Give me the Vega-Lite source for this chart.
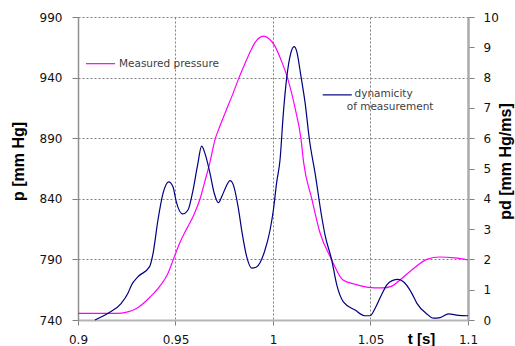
{
  "$schema": "https://vega.github.io/schema/vega-lite/v6.json",
  "width": 390,
  "height": 303,
  "autosize": "none",
  "padding": {"left": 78, "top": 17, "right": 47, "bottom": 26},
  "background": "white",
  "config": {
    "view": {"stroke": null},
    "axis": {
      "labelFont": "DejaVu Sans",
      "labelFontSize": 12,
      "labelColor": "#111111",
      "titleFont": "Liberation Sans",
      "titleFontSize": 16,
      "titleFontWeight": "bold",
      "titleColor": "#000000",
      "tickColor": "#808080",
      "gridColor": "#808080",
      "gridDash": [2, 2],
      "gridOpacity": 1,
      "gridWidth": 1,
      "labelFlush": false,
      "labelOverlap": false,
      "labelBound": false
    }
  },
  "datasets": {
    "pressure": [
      {"t": 0.9, "p": 745.5}, {"t": 0.91, "p": 745.5}, {"t": 0.92, "p": 745.5},
      {"t": 0.925, "p": 746.5}, {"t": 0.93, "p": 749.5}, {"t": 0.933, "p": 753},
      {"t": 0.937, "p": 759}, {"t": 0.942, "p": 768}, {"t": 0.946, "p": 778},
      {"t": 0.9489, "p": 790}, {"t": 0.952, "p": 803}, {"t": 0.956, "p": 816},
      {"t": 0.9595, "p": 827}, {"t": 0.9626, "p": 840}, {"t": 0.965, "p": 854},
      {"t": 0.9675, "p": 869}, {"t": 0.9703, "p": 889}, {"t": 0.9728, "p": 900},
      {"t": 0.976, "p": 913}, {"t": 0.9795, "p": 927}, {"t": 0.9826, "p": 940},
      {"t": 0.9857, "p": 951.8}, {"t": 0.9885, "p": 962}, {"t": 0.9917, "p": 971},
      {"t": 0.9954, "p": 974.3}, {"t": 0.998, "p": 972}, {"t": 1.001, "p": 966},
      {"t": 1.004, "p": 955}, {"t": 1.0074, "p": 940}, {"t": 1.0113, "p": 915},
      {"t": 1.0143, "p": 890}, {"t": 1.0157, "p": 870}, {"t": 1.0199, "p": 840},
      {"t": 1.0241, "p": 812}, {"t": 1.03, "p": 790}, {"t": 1.0359, "p": 773},
      {"t": 1.042, "p": 769.5}, {"t": 1.048, "p": 767.2}, {"t": 1.056, "p": 766.5},
      {"t": 1.061, "p": 768}, {"t": 1.0651, "p": 773}, {"t": 1.0713, "p": 781.5},
      {"t": 1.0789, "p": 790}, {"t": 1.0856, "p": 792}, {"t": 1.0933, "p": 791.2},
      {"t": 1.1, "p": 789.5}
    ],
    "dyn": [
      {"t": 0.9087, "pd": 0.0}, {"t": 0.9154, "pd": 0.22}, {"t": 0.9222, "pd": 0.55},
      {"t": 0.9256, "pd": 0.88}, {"t": 0.9274, "pd": 1.15}, {"t": 0.9308, "pd": 1.43},
      {"t": 0.9367, "pd": 1.76}, {"t": 0.9385, "pd": 2.2}, {"t": 0.941, "pd": 3.3},
      {"t": 0.9436, "pd": 4.18}, {"t": 0.9465, "pd": 4.56}, {"t": 0.9487, "pd": 4.4},
      {"t": 0.9504, "pd": 3.9}, {"t": 0.9537, "pd": 3.5}, {"t": 0.9564, "pd": 3.63},
      {"t": 0.959, "pd": 4.29}, {"t": 0.9613, "pd": 5.1}, {"t": 0.9634, "pd": 5.74},
      {"t": 0.9651, "pd": 5.5}, {"t": 0.9677, "pd": 4.84}, {"t": 0.9698, "pd": 4.2},
      {"t": 0.972, "pd": 3.87}, {"t": 0.9739, "pd": 4.1}, {"t": 0.9759, "pd": 4.4},
      {"t": 0.978, "pd": 4.6}, {"t": 0.9797, "pd": 4.45}, {"t": 0.9822, "pd": 3.7},
      {"t": 0.9841, "pd": 2.9}, {"t": 0.9865, "pd": 2.09}, {"t": 0.9891, "pd": 1.71},
      {"t": 0.9917, "pd": 1.76}, {"t": 0.9934, "pd": 1.9}, {"t": 0.9959, "pd": 2.31},
      {"t": 0.9985, "pd": 2.97}, {"t": 1.0002, "pd": 3.63}, {"t": 1.0019, "pd": 4.55},
      {"t": 1.0036, "pd": 5.28}, {"t": 1.0053, "pd": 6.82}, {"t": 1.0071, "pd": 8.03},
      {"t": 1.0091, "pd": 8.8}, {"t": 1.0108, "pd": 9.02}, {"t": 1.0122, "pd": 8.86},
      {"t": 1.0142, "pd": 8.1}, {"t": 1.0165, "pd": 7.15}, {"t": 1.0187, "pd": 5.94},
      {"t": 1.0216, "pd": 4.84}, {"t": 1.025, "pd": 3.4}, {"t": 1.0267, "pd": 2.8},
      {"t": 1.0301, "pd": 1.98}, {"t": 1.0327, "pd": 1.16}, {"t": 1.0361, "pd": 0.6},
      {"t": 1.0421, "pd": 0.33}, {"t": 1.0472, "pd": 0.14}, {"t": 1.0498, "pd": 0.14},
      {"t": 1.0524, "pd": 0.39}, {"t": 1.0558, "pd": 0.85}, {"t": 1.0584, "pd": 1.16},
      {"t": 1.0611, "pd": 1.3}, {"t": 1.0643, "pd": 1.34}, {"t": 1.0669, "pd": 1.26},
      {"t": 1.0712, "pd": 0.88}, {"t": 1.0738, "pd": 0.55}, {"t": 1.0789, "pd": 0.2},
      {"t": 1.0823, "pd": 0.06}, {"t": 1.0857, "pd": 0.08}, {"t": 1.09, "pd": 0.2},
      {"t": 1.0951, "pd": 0.15}, {"t": 1.1, "pd": 0.14}
    ],
    "legP": [{"t": 0.9041, "t2": 0.919, "p": 951.5}],
    "legPText": [{"t": 0.921, "p": 951.5, "label": "Measured pressure"}],
    "legD": [{"t": 1.0255, "t2": 1.0404, "pd": 7.43}],
    "legDText": [
      {"t": 1.0418, "pd": 7.46, "label": "dynamicity"},
      {"t": 1.0378, "pd": 7.04, "label": "of measurement"}
    ]
  },
  "encoding": {
    "x": {
      "field": "t",
      "type": "quantitative",
      "scale": {"domain": [0.9, 1.1], "nice": false, "zero": false},
      "axis": {
        "values": [0.9, 0.95, 1, 1.05, 1.1],
        "format": "~g",
        "grid": true,
        "tickSize": 5,
        "labelPadding": 9,
        "title": "t [s]",
        "titleX": 343,
        "titleY": 18,
        "titleBaseline": "middle",
        "titleAlign": "center",
        "titleFontSize": 15,
        "domainColor": "#b5b5b5",
        "domainWidth": 2
      }
    }
  },
  "layer": [
    {
      "encoding": {
        "y": {
          "field": "p",
          "type": "quantitative",
          "scale": {"domain": [740, 990], "nice": false, "zero": false},
          "axis": {
            "orient": "left",
            "values": [740, 790, 840, 890, 940, 990],
            "grid": true,
            "tickSize": 6,
            "labelPadding": 10,
            "title": "p  [mm Hg]",
            "titleX": -60,
            "titleY": 144,
            "titleAngle": 270,
            "titleBaseline": "middle",
            "titleAlign": "center",
            "domainColor": "#909090",
            "domainWidth": 1.5
          }
        }
      },
      "layer": [
        {"data": {"name": "pressure"}, "mark": {"type": "line", "color": "#FF00FF", "strokeWidth": 1.2, "interpolate": "monotone"}},
        {"data": {"name": "legP"}, "mark": {"type": "rule", "color": "#FF00FF", "strokeWidth": 1.2}, "encoding": {"x2": {"field": "t2"}}},
        {"data": {"name": "legPText"}, "mark": {"type": "text", "align": "left", "baseline": "middle", "font": "DejaVu Sans", "fontSize": 10.5, "color": "#404040"}, "encoding": {"text": {"field": "label"}}}
      ]
    },
    {
      "encoding": {
        "y": {
          "field": "pd",
          "type": "quantitative",
          "scale": {"domain": [0, 10], "nice": false, "zero": false},
          "axis": {
            "orient": "right",
            "values": [0, 1, 2, 3, 4, 5, 6, 7, 8, 9, 10],
            "grid": false,
            "tickSize": 6,
            "labelPadding": 9,
            "title": "pd  [mm Hg/ms]",
            "titleX": 37,
            "titleY": 144,
            "titleAngle": 270,
            "titleBaseline": "middle",
            "titleAlign": "center",
            "domainColor": "#aaaaaa",
            "domainWidth": 2.5
          }
        }
      },
      "layer": [
        {"data": {"name": "dyn"}, "mark": {"type": "line", "color": "#000080", "strokeWidth": 1.2, "interpolate": "monotone"}},
        {"data": {"name": "legD"}, "mark": {"type": "rule", "color": "#000080", "strokeWidth": 1.2}, "encoding": {"x2": {"field": "t2"}}},
        {"data": {"name": "legDText"}, "mark": {"type": "text", "align": "left", "baseline": "middle", "font": "DejaVu Sans", "fontSize": 10.5, "color": "#404040"}, "encoding": {"text": {"field": "label"}}}
      ]
    }
  ],
  "resolve": {"scale": {"y": "independent"}}
}
